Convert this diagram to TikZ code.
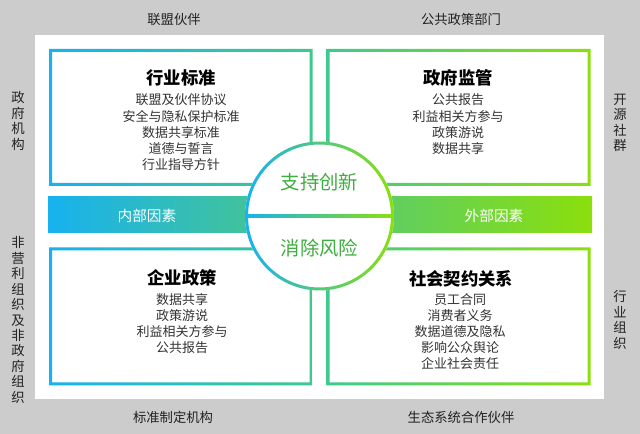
\documentclass[tikz,border=0pt]{standalone}
\usepackage{fontspec}
\setmainfont{Noto Sans CJK SC}
\definecolor{bgc}{HTML}{CCCCCC}
\definecolor{cyanc}{HTML}{17B2EF}
\definecolor{midc}{HTML}{3EC98E}
\definecolor{limec}{HTML}{8BDF0C}
\definecolor{greentxt}{HTML}{3DAE3F}
\definecolor{itemc}{HTML}{333333}
\definecolor{labc}{HTML}{222222}
\tikzset{
  boxtitle/.style={inner sep=0pt, font=\fontsize{13}{15}\selectfont\bfseries, text=black},
  itemtxt/.style={inner sep=0pt, font=\fontsize{9.75}{12}\selectfont, text=itemc},
  centertxt/.style={inner sep=0pt, font=\fontsize{14.5}{17}\selectfont, text=greentxt},
  bandtxt/.style={inner sep=0pt, font=\fontsize{11}{13}\selectfont, text=white},
  outlab/.style={inner sep=0pt, font=\fontsize{10}{12}\selectfont, text=labc},
  vlab/.style={inner sep=0pt, align=center, font=\fontsize{10}{11.6}\selectfont, text=labc},
}
\begin{document}
\begin{tikzpicture}[x=0.75pt,y=-0.75pt]
\useasboundingbox (0,0) rectangle (640,434);
\fill[bgc] (0,0) rectangle (640,434);
\fill[white] (35,35) rectangle (604,399);
% band
\shade[left color=cyanc, right color=limec] (48,197) rectangle (592,233);
% frames
\shade[left color=cyanc, right color=midc, even odd rule] (49,49) rectangle (312.5,186) (52,52) rectangle (309.5,183);
\shade[left color=midc, right color=limec, even odd rule] (326.5,49) rectangle (590.5,186) (329.5,52) rectangle (587.5,183);
\shade[left color=cyanc, right color=midc, even odd rule] (49,247.5) rectangle (312.5,385.5) (52,250.5) rectangle (309.5,382.5);
\shade[left color=midc, right color=limec, even odd rule] (326.5,247.5) rectangle (590.5,385.5) (329.5,250.5) rectangle (587.5,382.5);
% circle
\coordinate (c) at (319.5,216);
\fill[white] (c) circle (74.5);
\shade[left color=cyanc, right color=limec, even odd rule] (c) circle (74.5) (c) circle (71.5);
\shade[left color=cyanc, right color=limec] (246,214.5) rectangle (393,217.5);
% center texts
\node[centertxt] (inn) at (319.5,182) {支持创新};
\node[centertxt] (risk) at (319.5,248) {消除风险};
\node[bandtxt] (inner) at (147,216) {内部因素};
\node[bandtxt] (outer) at (494,216) {外部因素};
% box texts
\node[boxtitle] (tlt) at (181,78) {行业标准};
\foreach \t [count=\i] in {联盟及伙伴协议,安全与隐私保护标准,数据共享标准,道德与誓言,行业指导方针}
  \node[itemtxt] (tl\i) at (181,{100+16.2*(\i-1)}) {\t};
\node[boxtitle] (trt) at (458,78) {政府监管};
\foreach \t [count=\i] in {公共报告,利益相关方参与,政策游说,数据共享}
  \node[itemtxt] (tr\i) at (458,{100+16.2*(\i-1)}) {\t};
\node[boxtitle] (blt) at (182,278) {企业政策};
\foreach \t [count=\i] in {数据共享,政策游说,利益相关方参与,公共报告}
  \node[itemtxt] (bl\i) at (182,{300+15.8*(\i-1)}) {\t};
\node[boxtitle] (brt) at (461,279) {社会契约关系};
\foreach \t [count=\i] in {员工合同,消费者义务,数据道德及隐私,影响公众舆论,企业社会责任}
  \node[itemtxt] (br\i) at (460,{300+16*(\i-1)}) {\t};
% outer labels
\node[outlab] (top1) at (174,19) {联盟伙伴};
\node[outlab] (top2) at (461,19) {公共政策部门};
\node[outlab] (bot1) at (173,417) {标准制定机构};
\node[outlab] (bot2) at (461,417) {生态系统合作伙伴};
\node[vlab] (left1) at (18,121) {政\\府\\机\\构};
\node[vlab] (left2) at (18,320) {非\\营\\利\\组\\织\\及\\非\\政\\府\\组\\织};
\node[vlab] (right1) at (620,123) {开\\源\\社\\群};
\node[vlab] (right2) at (620,320) {行\\业\\组\\织};
\end{tikzpicture}
\end{document}
